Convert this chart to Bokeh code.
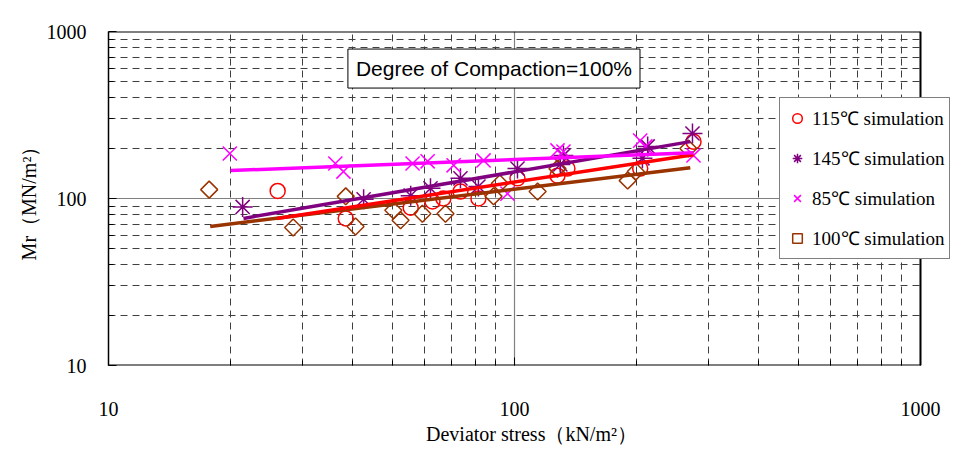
import numpy as np
from bokeh.plotting import figure
from bokeh.models import (FixedTicker, BasicTickFormatter, Legend, LegendItem,
                          Label, BoxAnnotation)
from bokeh.embed import file_html
from bokeh.resources import INLINE

# ---- data ----
x_115 = [26.1, 38.4, 55.5, 62.8, 66.8, 73.6, 81.5, 101.7, 127.6, 135, 204, 276]
y_115 = [111, 76, 88, 96, 100, 110, 100, 132, 137, 151, 151, 219]

x_145 = [21.4, 42.5, 55.5, 62.1, 73.6, 81.5, 101.7, 129.7, 132, 206.6, 212.8, 274.4]
y_145 = [89, 99, 104, 115, 132, 118, 151, 160, 181, 174, 205, 245]

x_85 = [19.9, 36.2, 37.9, 56.1, 61.1, 70.8, 83.9, 96.1, 127.6, 132, 204, 210, 276]
y_85 = [186, 162, 145, 162, 167, 158, 169, 107, 194, 191, 222, 205, 181]

x_100 = [17.7, 28.5, 38.4, 40.6, 50.3, 52.4, 59.3, 67.6, 88.8, 92, 114, 127.6, 190, 199, 268]
y_100 = [113, 67, 103, 68, 85, 74, 81, 81, 103, 123, 110, 151, 128, 145, 199]

# fitted trend lines (end points)
fit_115_x = [26, 276]
fit_115_y = [76, 183]
fit_145_x = [21.5, 271]
fit_145_y = [76, 219]
fit_85_x = [20, 276]
fit_85_y = [147, 188]
fit_100_x = [17.8, 271]
fit_100_y = [68, 153]

x_min, x_max = 10, 1000
y_min, y_max = 10, 1000
major_ticks = [10, 100, 1000]
minor_ticks = [20, 30, 40, 50, 60, 70, 80, 90, 200, 300, 400, 500, 600, 700, 800, 900]

labels = ["115℃ simulation", "145℃ simulation", "85℃ simulation", "100℃ simulation"]
colors = ["#FF0000", "#800080", "#FF00FF", "#993300"]

SERIF = "Liberation Serif"

# The plotting frame runs to the right edge of the canvas so that the legend,
# which overhangs the plot area as in the reference, is not clipped.
FRAME_W = 846
DECADE_PX = 406
x_end = 10 ** (np.log10(x_min) + FRAME_W / DECADE_PX)

p = figure(frame_width=FRAME_W, frame_height=334,
           x_axis_type="log", y_axis_type="log",
           x_range=(x_min, x_end), y_range=(y_min, y_max),
           output_backend="svg", toolbar_location=None,
           min_border_left=108, min_border_right=0,
           min_border_top=31, min_border_bottom=75)

p.background_fill_color = "white"
p.border_fill_color = "white"
p.outline_line_color = None

ticker = FixedTicker(ticks=major_ticks, minor_ticks=minor_ticks)
for ax in (p.xaxis[0], p.yaxis[0]):
    ax.ticker = ticker
    ax.formatter = BasicTickFormatter()
    ax.major_label_text_font = SERIF
    ax.major_label_text_font_size = "20px"
    ax.major_label_text_color = "black"
    ax.axis_label_text_font = SERIF
    ax.axis_label_text_font_size = "20px"
    ax.axis_label_text_font_style = "normal"
    ax.axis_label_text_color = "black"
    ax.axis_line_color = "black"
    ax.axis_line_width = 1.5
    ax.major_tick_in = 8
    ax.major_tick_out = 0
    ax.minor_tick_in = 5
    ax.minor_tick_out = 0
    ax.major_tick_line_color = "black"
    ax.minor_tick_line_color = "black"

p.xaxis.axis_line_color = None
p.xaxis.axis_label = "Deviator stress（kN/m²）"
p.yaxis.axis_label = "Mr（MN/m²）"
p.xaxis.major_label_standoff = 36
p.xaxis.axis_label_standoff = 4
p.yaxis.major_label_standoff = 22
p.yaxis.axis_label_standoff = 4

for g in (p.xgrid[0], p.ygrid[0]):
    g.ticker = ticker
    g.grid_line_color = "#808080"
    g.grid_line_width = 1.2
    g.minor_grid_line_color = "#404040"
    g.minor_grid_line_width = 1
    g.minor_grid_line_dash = "7 5"

# blank out the grid to the right of the plot area (x > 1000)
p.add_layout(BoxAnnotation(left=x_max, fill_color="white", fill_alpha=1,
                           line_color=None, level="underlay"))

# plot-area border (top, right, bottom)
p.segment(x0=[x_min, x_max, x_min], y0=[y_max, y_min, y_min],
          x1=[x_max, x_max, x_max], y1=[y_max, y_max, y_min],
          line_color="black", line_width=2)

# markers
r115 = p.scatter(x_115, y_115, marker="circle", size=15, fill_alpha=0,
                 line_color=colors[0], line_width=1.5)
r145 = p.scatter(x_145, y_145, marker="asterisk", size=20,
                 line_color=colors[1], line_width=1.5)
r85 = p.scatter(x_85, y_85, marker="x", size=20,
                line_color=colors[2], line_width=1.5)
r100 = p.scatter(x_100, y_100, marker="square", angle=np.pi / 4, size=12,
                 fill_alpha=0, line_color=colors[3], line_width=1.5)

# trend lines
p.line(fit_100_x, fit_100_y, line_color=colors[3], line_width=3.5)
p.line(fit_115_x, fit_115_y, line_color=colors[0], line_width=3.5)
p.line(fit_145_x, fit_145_y, line_color=colors[1], line_width=3.5)
p.line(fit_85_x, fit_85_y, line_color=colors[2], line_width=3.5)

# annotation box
p.add_layout(Label(x=89, y=600, text="Degree of Compaction=100%",
                   text_align="center", text_baseline="middle",
                   text_font="Liberation Sans", text_font_size="21px",
                   text_color="black", background_fill_color="white",
                   border_line_color="black", border_line_width=1, padding=8))

legend = Legend(items=[LegendItem(label=labels[0], renderers=[r115]),
                       LegendItem(label=labels[1], renderers=[r145]),
                       LegendItem(label=labels[2], renderers=[r85]),
                       LegendItem(label=labels[3], renderers=[r100])],
                location=(671, 106),
                label_text_font=SERIF, label_text_font_size="19px",
                label_text_color="black",
                glyph_height=30, glyph_width=24, label_height=30,
                spacing=10, padding=5, margin=0, label_standoff=3,
                border_line_color="black", border_line_width=1,
                background_fill_color="white", background_fill_alpha=1)
p.add_layout(legend)

# outer chart border
p.add_layout(BoxAnnotation(left=2, top=2, right=3000, bottom=3000,
                           left_units="canvas", top_units="canvas",
                           right_units="canvas", bottom_units="canvas",
                           fill_alpha=0, line_color="black", line_width=1,
                           level="overlay"))

open("out.html", "w").write(file_html(p, INLINE))
